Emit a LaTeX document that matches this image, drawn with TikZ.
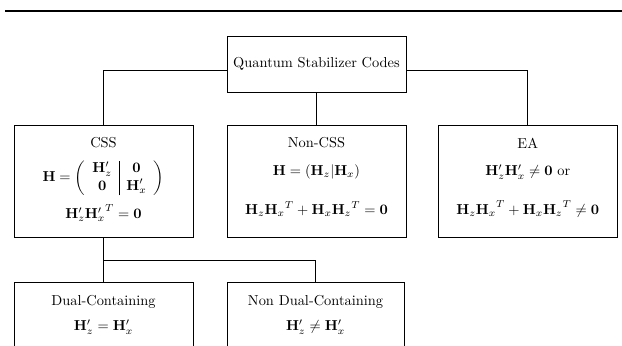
\documentclass[tikz,border=0pt]{standalone}
\usepackage{amsmath}
\begin{document}
\begin{tikzpicture}[x=0.6944pt,y=-0.6944pt,
  box/.style={draw,line width=0.5pt,inner sep=0pt},
  conn/.style={line width=0.5pt},
  txt/.style={inner sep=0pt,anchor=center}]
\useasboundingbox (0,0) rectangle (622,346);
\clip (0,0) rectangle (622,346);
\draw[line width=1.6pt] (5,11) -- (622,11);
% boxes
\node[box,minimum width=179*0.6944pt,minimum height=56*0.6944pt] (root) at (316.5,64) {Quantum Stabilizer Codes};
\node[box,minimum width=179*0.6944pt,minimum height=112*0.6944pt] (css) at (103.5,181) {};
\node[box,minimum width=179*0.6944pt,minimum height=112*0.6944pt] (noncss) at (316.5,181) {};
\node[box,minimum width=178.5*0.6944pt,minimum height=112*0.6944pt] (ea) at (527.75,181) {};
\node[box,minimum width=179*0.6944pt,minimum height=112*0.6944pt] (dual) at (103.5,338) {};
\node[box,minimum width=177*0.6944pt,minimum height=112*0.6944pt] (nondual) at (315.5,338) {};
% texts
\node[txt] (t1) at (103.5,143) {CSS};
\node[txt] (t2) at (103.5,178) {$\mathbf{H}=\left(\begin{array}{c|c}\mathbf{H}'_z & \mathbf{0}\\ \mathbf{0} & \mathbf{H}'_x\end{array}\right)$};
\node[txt] (t3) at (103.5,213) {$\mathbf{H}'_z{\mathbf{H}'_x}^{T}=\mathbf{0}$};
\node[txt] (t4) at (316.5,143) {Non-CSS};
\node[txt] (t5) at (316.5,172) {$\mathbf{H}=(\mathbf{H}_z|\mathbf{H}_x)$};
\node[txt] (t6) at (316.5,209) {$\mathbf{H}_z{\mathbf{H}_x}^{T}+\mathbf{H}_x{\mathbf{H}_z}^{T}=\mathbf{0}$};
\node[txt] (t7) at (527.75,143) {EA};
\node[txt] (t8) at (527.75,172) {$\mathbf{H}'_z\mathbf{H}'_x\neq\mathbf{0}$ or};
\node[txt] (t9) at (527.75,209) {$\mathbf{H}_z{\mathbf{H}_x}^{T}+\mathbf{H}_x{\mathbf{H}_z}^{T}\neq\mathbf{0}$};
\node[txt] (t10) at (103.5,302) {Dual-Containing};
\node[txt] (t11) at (103.5,327) {$\mathbf{H}'_z=\mathbf{H}'_x$};
\node[txt] (t12) at (315.5,302) {Non Dual-Containing};
\node[txt] (t13) at (315.5,327) {$\mathbf{H}'_z\neq\mathbf{H}'_x$};
% connectors
\draw[conn] ([yshift=-6*0.6944pt]root.west) -| (css.north);
\draw[conn] ([yshift=-6*0.6944pt]root.east) -| (ea.north);
\draw[conn] (root.south) -- (noncss.north);
\draw[conn] (css.south) -- (dual.north);
\draw[conn] (css.south) -- ++(0,23) -| (nondual.north);
\end{tikzpicture}
\end{document}
